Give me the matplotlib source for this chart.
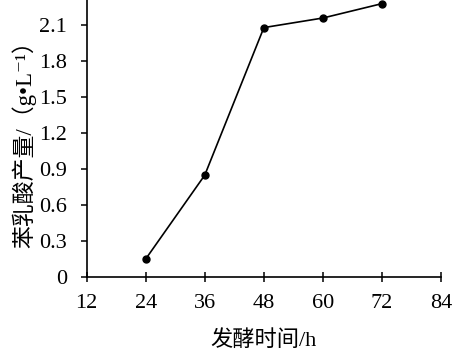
import matplotlib.pyplot as plt

plt.rcParams['font.family'] = ['Liberation Serif', 'Noto Sans CJK SC', 'DejaVu Serif']

# data
hours = [24, 36, 48, 60, 72]
yield_pla = [0.15, 0.85, 2.08, 2.16, 2.28]
x_ticks = [12, 24, 36, 48, 60, 72, 84]
y_ticks = [0, 0.3, 0.6, 0.9, 1.2, 1.5, 1.8, 2.1]
y_tick_labels = ['0', '0.3', '0.6', '0.9', '1.2', '1.5', '1.8', '2.1']

fig = plt.figure(figsize=(4.53, 3.53), dpi=100)
ax = fig.add_axes([0.191, 0.215, 0.783, 0.785])

ax.plot(hours, yield_pla, color='black', lw=1.2, marker='o', ms=5)

ax.set_xlim(12, 84)
ax.set_ylim(0, 2.31)
ax.set_xticks(x_ticks)
ax.set_yticks(y_ticks)
ax.set_yticklabels(y_tick_labels)

for s in ['top', 'right']:
    ax.spines[s].set_visible(False)
for s in ['left', 'bottom']:
    ax.spines[s].set_linewidth(1.2)

ax.tick_params(axis='x', direction='inout', length=7, width=1.1, labelsize=16, pad=9)
ax.tick_params(axis='y', direction='out', length=4, width=1.1, labelsize=16, pad=10)

ax.set_xlabel('发酵时间/h', fontsize=16, labelpad=12)
ax.set_ylabel('苯乳酸产量/（g•L⁻¹）', fontsize=16.5, labelpad=2)

fig.savefig('out.png', dpi=100)
